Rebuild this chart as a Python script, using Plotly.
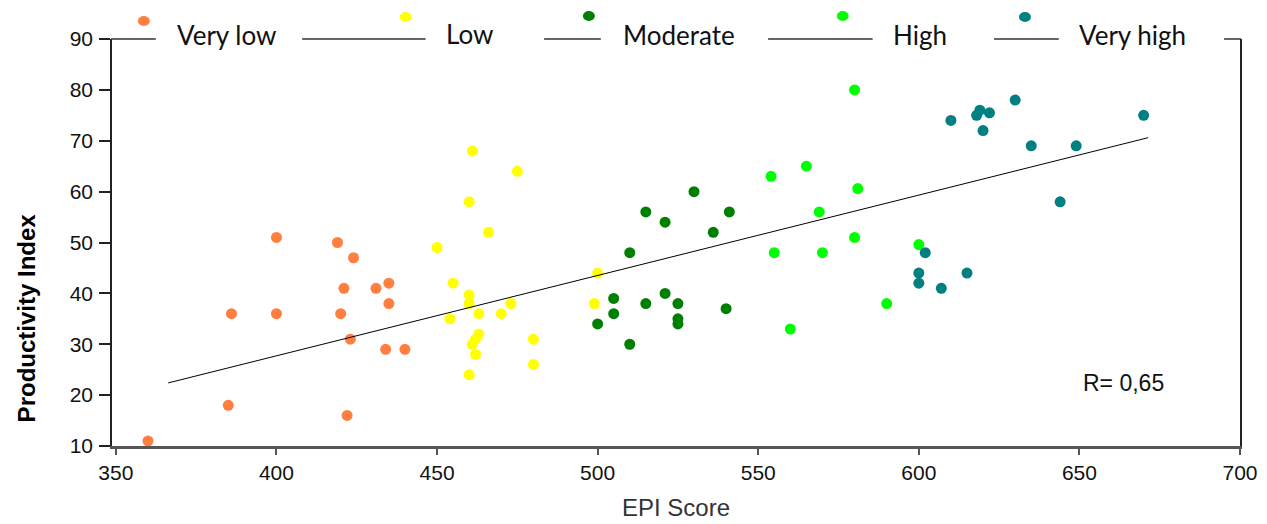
import plotly.graph_objects as go

# ---------------- data ----------------
categories = ["Very low", "Low", "Moderate", "High", "Very high"]
colors = ["#FF7F40", "#FFFF00", "#008000", "#00FF00", "#008080"]

very_low_x = [360, 385, 386, 400, 400, 419, 421, 424, 420, 423, 422, 431, 435, 435, 434, 440]
very_low_y = [11, 18, 36, 51, 36, 50, 41, 47, 36, 31, 16, 41, 42, 38, 29, 29]

low_x = [461, 475, 460, 466, 450, 455, 460, 460, 473, 454, 463, 470, 463, 462, 461, 462, 480, 480, 460, 500, 499]
low_y = [68, 64, 58, 52, 49, 42, 39.7, 38, 38, 35, 36, 36, 32, 31, 30, 28, 31, 26, 24, 44, 38]

moderate_x = [530, 515, 521, 541, 536, 510, 505, 505, 500, 515, 521, 525, 525, 525, 540, 510]
moderate_y = [60, 56, 54, 56, 52, 48, 39, 36, 34, 38, 40, 38, 35, 34, 37, 30]

high_x = [554, 565, 581, 569, 580, 555, 570, 600, 590, 560, 580]
high_y = [63, 65, 60.6, 56, 51, 48, 48, 49.6, 38, 33, 80]

very_high_x = [610, 619, 618, 622, 620, 630, 670, 635, 649, 644, 602, 600, 600, 615, 607]
very_high_y = [74, 76, 75, 75.5, 72, 78, 75, 69, 69, 58, 48, 44, 42, 44, 41]

trend_x = [366.3, 671.4]
trend_y = [22.4, 70.6]

x_ticks = [350, 400, 450, 500, 550, 600, 650, 700]
y_ticks = [10, 20, 30, 40, 50, 60, 70, 80, 90]
r_label = "R= 0,65"

series_x = [very_low_x, low_x, moderate_x, high_x, very_high_x]
series_y = [very_low_y, low_y, moderate_y, high_y, very_high_y]

# ---------------- layout geometry (pixels) ----------------
OFFX, OFFY = 5, 8  # page body offset compensation
W, H = 1267 - OFFX, 524 - OFFY
L, T = 109 - OFFX, 39 - OFFY
PR, PB = 1242 - OFFX, 446 - OFFY
R, B = W - PR, H - PB
PW, PH = PR - L, PB - T


def px(x):  # reference-page x pixel -> paper
    return (x - OFFX - L) / PW


def py(y):  # reference-page y pixel -> paper
    return (PB - (y - OFFY)) / PH


fig = go.Figure()

for name, xs, ys, c in zip(categories, series_x, series_y, colors):
    fig.add_trace(go.Scatter(
        x=xs, y=ys, mode="markers", name=name,
        marker=dict(color=c, size=11, line=dict(width=0)),
        showlegend=False,
    ))

fig.add_trace(go.Scatter(
    x=trend_x, y=trend_y, mode="lines",
    line=dict(color="black", width=1), showlegend=False,
))

shapes = []
annotations = []

# top border segments interrupted by legend entries
for x0, x1 in [(108, 153), (300, 424), (543, 600), (768, 873), (995, 1060), (1226, 1243)]:
    shapes.append(dict(type="line", xref="paper", yref="paper",
                       x0=px(x0), x1=px(x1), y0=1, y1=1,
                       line=dict(color="#333333", width=1.5)))

# custom legend
leg_marker_pos = [(141, 21), (404, 17), (588, 16), (843, 16), (1026, 17)]
leg_text_pos = [(224, 35), (468, 34), (679, 35), (921, 35), (1134, 35)]
for name, c, (mx, my), (tx, ty) in zip(categories, colors, leg_marker_pos, leg_text_pos):
    shapes.append(dict(type="circle", xref="paper", yref="paper",
                       x0=px(mx - 6), x1=px(mx + 6), y0=py(my + 5), y1=py(my - 5),
                       fillcolor=c, line=dict(width=0)))
    annotations.append(dict(text=name, xref="paper", yref="paper",
                            x=px(tx), y=py(ty), xanchor="center", yanchor="middle",
                            showarrow=False,
                            font=dict(family="Lato", size=26, color="#111111")))

annotations.append(dict(text="EPI Score", xref="paper", yref="paper",
                        x=px(676), y=py(523), xanchor="center", yanchor="bottom",
                        showarrow=False,
                        font=dict(family="Liberation Sans", size=24, color="#333333")))
annotations.append(dict(text="<b>Productivity Index</b>", xref="paper", yref="paper",
                        x=px(23), y=py(318), xanchor="center", yanchor="middle",
                        textangle=-90, showarrow=False,
                        font=dict(family="Liberation Sans", size=24, color="#000000")))
annotations.append(dict(text=r_label, xref="paper", yref="paper",
                        x=px(1125), y=py(383), xanchor="center", yanchor="middle",
                        showarrow=False,
                        font=dict(family="Liberation Sans", size=23, color="#111111")))

fig.update_layout(
    width=W, height=H,
    margin=dict(l=L, r=R, t=T, b=B, pad=0),
    paper_bgcolor="white", plot_bgcolor="white",
    shapes=shapes, annotations=annotations,
    showlegend=False,
    font=dict(family="Liberation Sans", color="#111111"),
)

fig.update_xaxes(
    range=[348.8, 700], tickvals=x_ticks, ticktext=[str(v) for v in x_ticks],
    showgrid=False, zeroline=False,
    showline=True, linecolor="#555555", linewidth=2.5, mirror=False,
    ticks="outside", ticklen=6, tickwidth=1.5, tickcolor="#555555",
    tickfont=dict(family="Liberation Sans", size=21, color="#111111"),
    ticklabelstandoff=0,
)
fig.update_yaxes(
    range=[10, 90], tickvals=y_ticks, ticktext=[str(v) for v in y_ticks],
    showgrid=False, zeroline=False,
    showline=True, linecolor="#222222", linewidth=1.5, mirror=True,
    ticks="outside", ticklen=11, tickwidth=1.5, tickcolor="#222222",
    tickfont=dict(family="Liberation Sans", size=21, color="#111111"),
    ticklabelstandoff=2,
)

fig.write_html("out.html")
